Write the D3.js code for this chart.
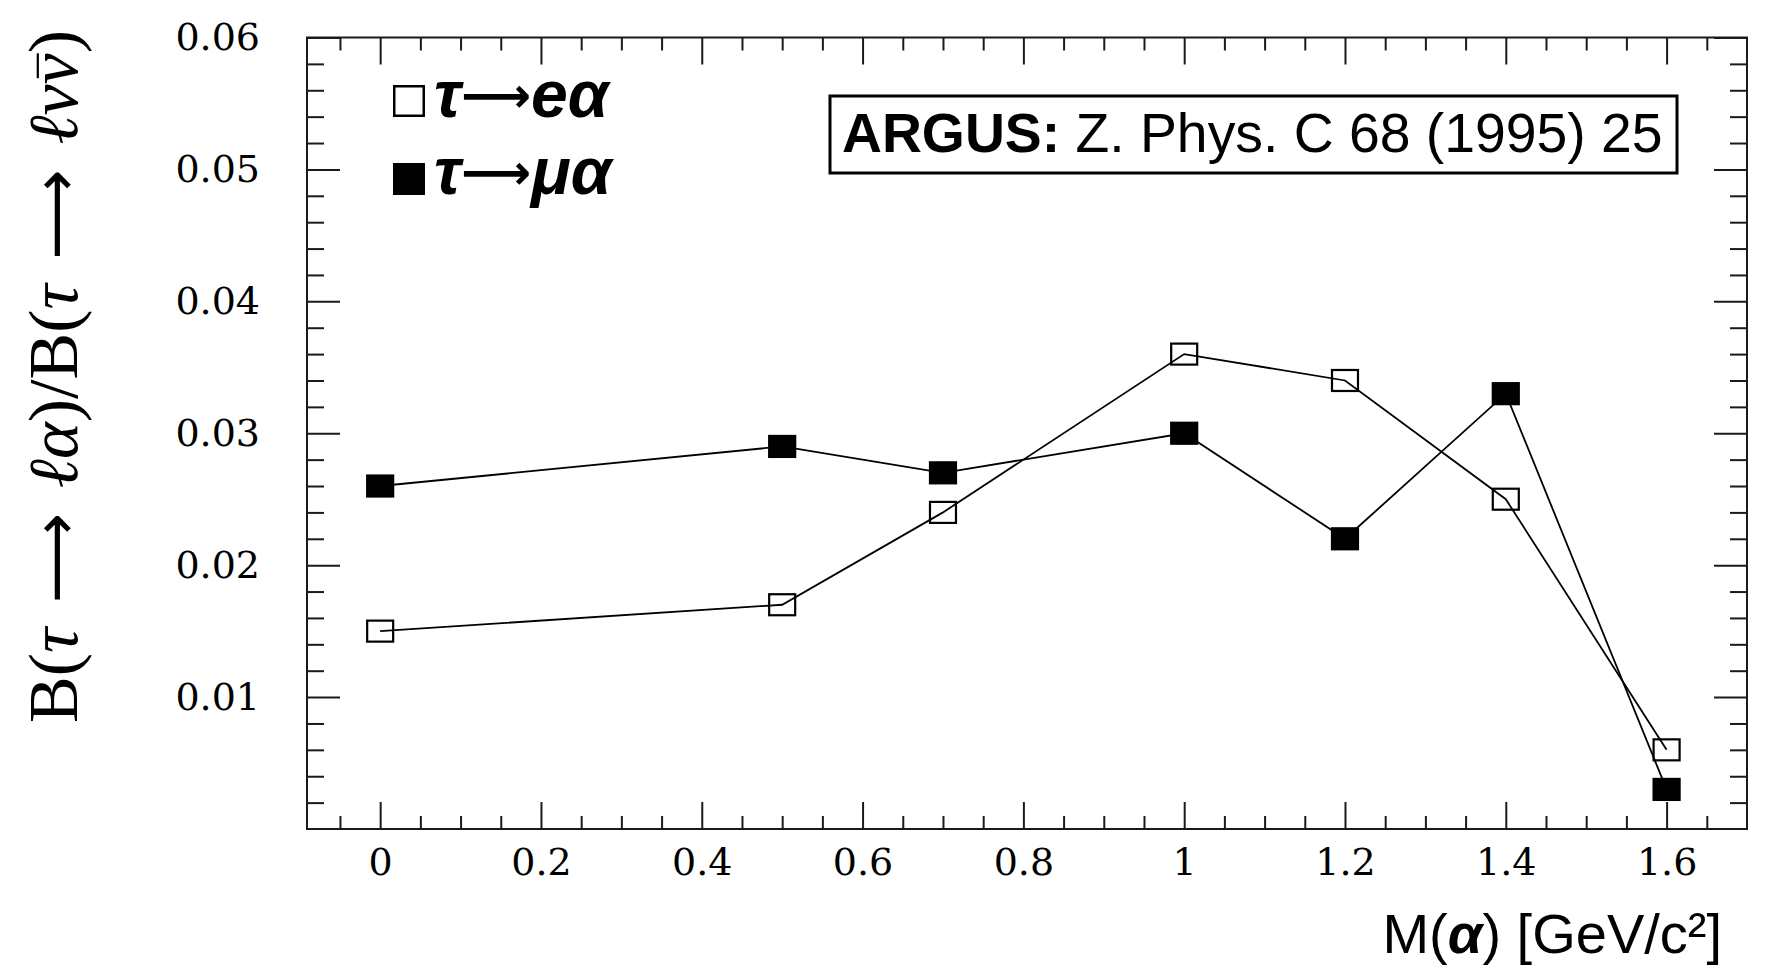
<!DOCTYPE html>
<html>
<head>
<meta charset="utf-8">
<script src="https://cdn.jsdelivr.net/npm/d3@7"></script>
<style>
  html, body { margin: 0; padding: 0; background: #fff; }
  svg { display: block; }
</style>
</head>
<body>
<svg id="chart" width="1768" height="980"></svg>
<script>
// ---- data ----
const masses = [0, 0.5, 0.7, 1.0, 1.2, 1.4, 1.6];
const tauToE  = [0.015, 0.017, 0.024, 0.036, 0.034, 0.025, 0.006];
const tauToMu = [0.026, 0.029, 0.027, 0.030, 0.022, 0.033, 0.003];
const xMajorTicks = [0, 0.2, 0.4, 0.6, 0.8, 1.0, 1.2, 1.4, 1.6];
const xMinorTicks = [-0.05, 0.05, 0.1, 0.15, 0.25, 0.3, 0.35, 0.45, 0.5, 0.55, 0.65, 0.7, 0.75, 0.85, 0.9, 0.95, 1.05, 1.1, 1.15, 1.25, 1.3, 1.35, 1.45, 1.5, 1.55, 1.65];
const yMajorTicks = [0.01, 0.02, 0.03, 0.04, 0.05, 0.06];
const yMinorTicks = [0.002, 0.004, 0.006, 0.008, 0.012, 0.014, 0.016, 0.018, 0.022, 0.024, 0.026, 0.028, 0.032, 0.034, 0.036, 0.038, 0.042, 0.044, 0.046, 0.048, 0.052, 0.054, 0.056, 0.058];
const xDomain = [-0.091, 1.70];
const yDomain = [0, 0.06];

// ---- layout ----
const svg = d3.select("#chart");
const frame = { left: 307, top: 37.5, right: 1747, bottom: 829 };
const W = frame.right - frame.left, H = frame.bottom - frame.top;
const g = svg.append("g").attr("transform", `translate(${frame.left},${frame.top})`);

const x = d3.scaleLinear().domain(xDomain).range([0, W]);
const y = d3.scaleLinear().domain(yDomain).range([H, 0]);

const ink = "#1a1a1a";
const tickFont = "'DejaVu Serif', serif";

function styleAxis(sel) {
  sel.select(".domain").remove();
  sel.selectAll(".tick line").attr("stroke", ink).attr("stroke-width", 2);
  sel.selectAll(".tick text").attr("fill", "#000").style("font-family", tickFont).style("font-size", "38px");
}

const fmtX = d => d3.format("~g")(d);
g.append("g").attr("transform", `translate(0,${H})`)
  .call(d3.axisBottom(x).tickValues(xMajorTicks).tickSize(-27).tickPadding(19).tickFormat(fmtX)).call(styleAxis);
g.append("g").attr("transform", `translate(0,${H})`)
  .call(d3.axisBottom(x).tickValues(xMinorTicks).tickSize(-13).tickFormat("")).call(styleAxis);
g.append("g")
  .call(d3.axisTop(x).tickValues(xMajorTicks).tickSize(-27).tickFormat("")).call(styleAxis);
g.append("g")
  .call(d3.axisTop(x).tickValues(xMinorTicks).tickSize(-13).tickFormat("")).call(styleAxis);
g.append("g")
  .call(d3.axisLeft(y).tickValues(yMajorTicks).tickSize(-33).tickPadding(47).tickFormat(d3.format(".2f"))).call(styleAxis);
g.append("g")
  .call(d3.axisLeft(y).tickValues(yMinorTicks).tickSize(-17).tickFormat("")).call(styleAxis);
g.append("g").attr("transform", `translate(${W},0)`)
  .call(d3.axisRight(y).tickValues(yMajorTicks).tickSize(-33).tickFormat("")).call(styleAxis);
g.append("g").attr("transform", `translate(${W},0)`)
  .call(d3.axisRight(y).tickValues(yMinorTicks).tickSize(-17).tickFormat("")).call(styleAxis);

g.append("rect").attr("x", 0).attr("y", 0).attr("width", W).attr("height", H)
  .attr("fill", "none").attr("stroke", ink).attr("stroke-width", 2);

// ---- series ----
const series = [
  { name: "e",  values: tauToE,  filled: false },
  { name: "mu", values: tauToMu, filled: true }
];
const line = d3.line().x(d => x(d[0])).y(d => y(d[1]));
const mw = 26, mh = 21;

series.forEach(s => {
  const pts = masses.map((m, i) => [m, s.values[i]]);
  g.append("path").datum(pts).attr("d", line)
    .attr("fill", "none").attr("stroke", "#000").attr("stroke-width", 1.8);
});
series.forEach(s => {
  const pts = masses.map((m, i) => [m, s.values[i]]);
  g.selectAll(null).data(pts).enter().append("rect")
    .attr("x", d => x(d[0]) - mw / 2).attr("y", d => y(d[1]) - mh / 2)
    .attr("width", mw).attr("height", mh)
    .attr("fill", s.filled ? "#000" : "none")
    .attr("stroke", "#000").attr("stroke-width", 2.2);
});

// ---- legend ----
const legend = svg.append("g");
const legRows = [
  { filled: false, top: 85, base: 117, parts: ["τ", "⟶", "eα"] },
  { filled: true,  top: 163, base: 194, parts: ["τ", "⟶", "μα"] }
];
legRows.forEach(r => {
  legend.append("rect").attr("x", 393 + 1.25).attr("y", r.top + 1.25)
    .attr("width", 29.5).attr("height", 29.5)
    .attr("fill", r.filled ? "#000" : "#fff").attr("stroke", "#000").attr("stroke-width", 2.5);
  const t = legend.append("text").attr("x", 434).attr("y", r.base)
    .style("font-family", "'Liberation Sans', Arial, sans-serif").style("font-size", "66px")
    .style("font-weight", "bold").style("font-style", "italic").attr("fill", "#000");
  t.append("tspan").text(r.parts[0]);
  const ar = t.append("tspan").text(r.parts[1]).style("font-family", "'DejaVu Sans', sans-serif")
    .style("font-style", "normal").style("font-weight", "bold").style("font-size", "48px").attr("dy", -5);
  const len = ar.node().getComputedTextLength();
  if (len > 0) ar.style("font-size", (48 * 70 / len) + "px");
  t.append("tspan").text(r.parts[2]).attr("dy", 5);
});

// ---- ARGUS box ----
svg.append("rect").attr("x", 830).attr("y", 96).attr("width", 847).attr("height", 77)
  .attr("fill", "#fff").attr("stroke", "#000").attr("stroke-width", 3);
const at = svg.append("text").attr("x", 842).attr("y", 152)
  .style("font-family", "'Liberation Sans', Arial, sans-serif").style("font-size", "55.3px").attr("fill", "#000");
at.append("tspan").text("ARGUS:").style("font-weight", "bold");
at.append("tspan").text(" Z. Phys. C 68 (1995) 25");

// ---- axis titles ----
const xt = svg.append("text").attr("x", 1722).attr("y", 953).attr("text-anchor", "end")
  .style("font-family", "'Liberation Sans', Arial, sans-serif").style("font-size", "56px").attr("fill", "#000");
xt.append("tspan").text("M(");
xt.append("tspan").text("α").style("font-weight", "bold").style("font-style", "italic");
xt.append("tspan").text(") [GeV/c²]");

// y title: B(τ → ℓα)/B(τ → ℓνν̄)
const ytG = svg.append("g").attr("transform", "translate(77,376.5) rotate(-90)");
const yfs = 70;
const yt = ytG.append("text").attr("x", 0).attr("y", 0).attr("text-anchor", "middle")
  .style("font-family", "'Liberation Serif', 'Times New Roman', serif").style("font-size", yfs + "px").attr("fill", "#000");
const ytParts = [
  ["B(", false, false], ["τ", true, false], ["⟶", false, true], ["ℓα", true, false],
  [")/B(", false, false], ["τ", true, false], ["⟶", false, true], ["ℓνν", true, false], [")", false, false]
];
const spans = [];
ytParts.forEach(p => {
  const ts = yt.append("tspan").text(p[0]);
  if (p[1]) ts.style("font-style", "italic");
  if (p[2]) ts.style("font-family", "'DejaVu Sans', sans-serif").style("font-size", "48px");
  spans.push({ ts, arrow: p[2] });
});
spans.filter(s => s.arrow).forEach(s => {
  const l = s.ts.node().getComputedTextLength();
  if (l > 0) s.ts.style("font-size", (48 * 90 / l) + "px");
});
const targetLen = 693;
const total = d3.sum(spans, s => s.ts.node().getComputedTextLength());
const gap = Math.max(4, (targetLen - total) / 4);
spans.forEach((s, i) => {
  if (s.arrow) {
    s.ts.attr("dx", gap);
    spans[i + 1].ts.attr("dx", gap);
  }
});
// overline on the last ν
try {
  const idx = 2 + 1 + 1 + 2 + 4 + 1 + 1 + 2;
  const ext = yt.node().getExtentOfChar(idx);
  ytG.append("line")
    .attr("x1", ext.x + ext.width * 0.2).attr("x2", ext.x + ext.width * 1.0)
    .attr("y1", -yfs * 0.56).attr("y2", -yfs * 0.56)
    .attr("stroke", "#000").attr("stroke-width", 2.2);
} catch (e) {}
</script>
</body>
</html>
